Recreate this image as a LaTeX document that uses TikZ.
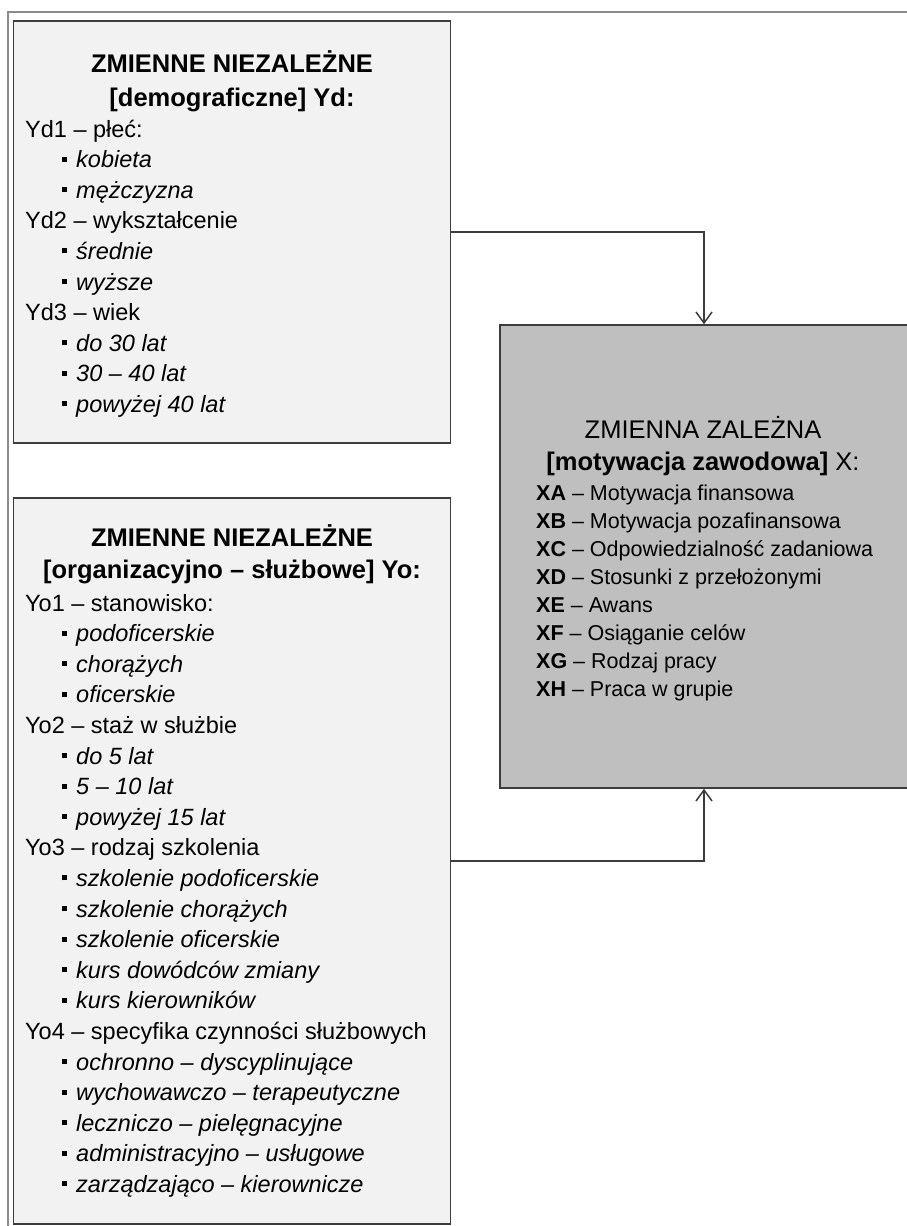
\documentclass[tikz,border=0pt]{standalone}
\usepackage{fontspec}
\setmainfont{Liberation Sans}
\usetikzlibrary{arrows.meta}

\definecolor{boxfill}{HTML}{F2F2F2}
\definecolor{depfill}{HTML}{BFBFBF}
\definecolor{edgegray}{HTML}{3C3C3C}
\definecolor{framegray}{HTML}{8C8C8C}

\newcommand{\pkt}[1]{\hspace*{36.5pt}\rule[6pt]{5pt}{5pt}\hspace{9.5pt}\textit{#1}}

\tikzset{
    varbox/.style={draw=edgegray, line width=1.5pt, rectangle, inner sep=0pt},
    head/.style={font=\fontsize{25.5}{32}\selectfont, anchor=base, inner sep=0pt},
    list/.style={font=\fontsize{23.5}{30.6}\selectfont, align=left, anchor=base west, inner sep=0pt},
    xlist/.style={font=\fontsize{21.5}{28}\selectfont, align=left, anchor=base west, inner sep=0pt},
}

\begin{document}
\begin{tikzpicture}[x=1pt, y=-1pt, >={Straight Barb[length=11pt,width=16pt]}]
    \useasboundingbox (0,0) rectangle (907,1226);
    \draw[framegray, line width=2pt] (7.5,1230) -- (7.5,12) -- (912,12);

    % boxes
    \node[varbox, fill=boxfill, minimum width=437pt, minimum height=422pt] (yd) at (232,232) {};
    \node[varbox, fill=boxfill, minimum width=437pt, minimum height=726pt] (yo) at (232,861) {};
    \node[varbox, fill=depfill, minimum width=408pt, minimum height=463pt] (x) at (704,556.5) {};

    % demograficzne (list anchored at its last line)
    \node[head] (ydt1) at (232,72) {\bfseries ZMIENNE NIEZALEŻNE};
    \node[head] (ydt2) at (232,106) {\bfseries [demograficzne] Yd:};
    \node[list] (ydl) at (25,412.4) {Yd1 – płeć:\\
        \pkt{kobieta}\\
        \pkt{mężczyzna}\\
        Yd2 – wykształcenie\\
        \pkt{średnie}\\
        \pkt{wyższe}\\
        Yd3 – wiek\\
        \pkt{do 30 lat}\\
        \pkt{30 – 40 lat}\\
        \pkt{powyżej 40 lat}};

    % organizacyjno-sluzbowe
    \node[head] (yot1) at (232,546) {\bfseries ZMIENNE NIEZALEŻNE};
    \node[head] (yot2) at (232,578) {\bfseries [organizacyjno – służbowe] Yo:};
    \node[list] (yol) at (25,1192.4) {Yo1 – stanowisko:\\
        \pkt{podoficerskie}\\
        \pkt{chorążych}\\
        \pkt{oficerskie}\\
        Yo2 – staż w służbie\\
        \pkt{do 5 lat}\\
        \pkt{5 – 10 lat}\\
        \pkt{powyżej 15 lat}\\
        Yo3 – rodzaj szkolenia\\
        \pkt{szkolenie podoficerskie}\\
        \pkt{szkolenie chorążych}\\
        \pkt{szkolenie oficerskie}\\
        \pkt{kurs dowódców zmiany}\\
        \pkt{kurs kierowników}\\
        Yo4 – specyfika czynności służbowych\\
        \pkt{ochronno – dyscyplinujące}\\
        \pkt{wychowawczo – terapeutyczne}\\
        \pkt{leczniczo – pielęgnacyjne}\\
        \pkt{administracyjno – usługowe}\\
        \pkt{zarządzająco – kierownicze}};

    % zmienna zalezna
    \node[head] (xt1) at (703,438) {ZMIENNA ZALEŻNA};
    \node[head] (xt2) at (703,470) {\textbf{[motywacja zawodowa]} X:};
    \node[xlist] (xl) at (536,696) {\textbf{XA} – Motywacja finansowa\\
        \textbf{XB} – Motywacja pozafinansowa\\
        \textbf{XC} – Odpowiedzialność zadaniowa\\
        \textbf{XD} – Stosunki z przełożonymi\\
        \textbf{XE} – Awans\\
        \textbf{XF} – Osiąganie celów\\
        \textbf{XG} – Rodzaj pracy\\
        \textbf{XH} – Praca w grupie};

    \draw[->, edgegray, line width=1.5pt] (yd.east) -| (x.north);
    \draw[->, edgegray, line width=1.5pt] (yo.east) -| (x.south);
\end{tikzpicture}
\end{document}
